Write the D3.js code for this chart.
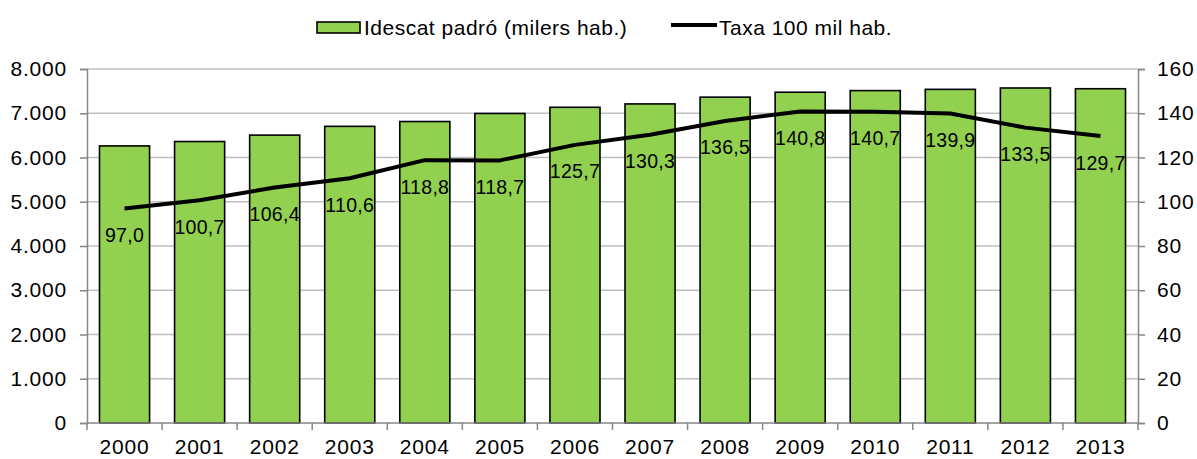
<!DOCTYPE html>
<html>
<head>
<meta charset="utf-8">
<script src="https://cdn.jsdelivr.net/npm/d3@7"></script>
<style>
  body { margin: 0; background: #fff; }
  svg text { font-family: "Liberation Sans", Arial, sans-serif; fill: #000; }
</style>
</head>
<body>
<svg id="chart" width="1197" height="459"></svg>
<script>
// Data
var years = ["2000","2001","2002","2003","2004","2005","2006","2007","2008","2009","2010","2011","2012","2013"];
var padro = [6262, 6361, 6506, 6704, 6813, 6995, 7135, 7211, 7364, 7475, 7512, 7540, 7571, 7554];
var taxa = [97.0, 100.7, 106.4, 110.6, 118.8, 118.7, 125.7, 130.3, 136.5, 140.8, 140.7, 139.9, 133.5, 129.7];
var leftTicks = [0, 1000, 2000, 3000, 4000, 5000, 6000, 7000, 8000];
var rightTicks = [0, 20, 40, 60, 80, 100, 120, 140, 160];
var legendLabels = ["Idescat padró (milers hab.)", "Taxa 100 mil hab."];

var svg = d3.select("#chart");
var m = { left: 87, right: 1138, top: 69, bottom: 423 };
var green = "#92d050";
var axisGrey = "#868686";
var fmt = d3.formatLocale({ decimal: ",", thousands: ".", grouping: [3], currency: ["", "€"] });
var fmtK = fmt.format(",d");
var fmt1 = fmt.format(".1f");

// Scales
var x = d3.scaleBand().domain(years).range([m.left, m.right]).paddingInner(0.333).paddingOuter(0.1665);
var yL = d3.scaleLinear().domain([0, 8000]).range([m.bottom, m.top]);
var yR = d3.scaleLinear().domain([0, 160]).range([m.bottom, m.top]);

// Gridlines
svg.append("g").selectAll("line")
   .data(leftTicks.slice(1))
   .enter().append("line")
   .attr("x1", m.left).attr("x2", m.right)
   .attr("y1", function(d) { return yL(d); })
   .attr("y2", function(d) { return yL(d); })
   .attr("stroke", "#bfbfbf").attr("stroke-width", 1.5);

// Bars
svg.append("g").selectAll("rect")
   .data(padro)
   .enter().append("rect")
   .attr("x", function(d, i) { return x(years[i]); })
   .attr("y", function(d) { return yL(d); })
   .attr("width", x.bandwidth())
   .attr("height", function(d) { return m.bottom - yL(d); })
   .attr("fill", green).attr("stroke", "#000").attr("stroke-width", 1.6);

// Axes
var axL = svg.append("g").attr("transform", "translate(" + m.left + ",0)")
  .call(d3.axisLeft(yL).tickValues(leftTicks).tickFormat(fmtK).tickSize(7).tickPadding(13));
var axR = svg.append("g").attr("transform", "translate(" + m.right + ",0)")
  .call(d3.axisRight(yR).tickValues(rightTicks).tickSize(7).tickPadding(12));
var axB = svg.append("g").attr("transform", "translate(0," + m.bottom + ")")
  .call(d3.axisBottom(x).tickSize(0).tickPadding(16));
// category boundary ticks
svg.append("g").selectAll("line")
   .data(d3.range(years.length + 1))
   .enter().append("line")
   .attr("x1", function(i) { return m.left + i * x.step(); })
   .attr("x2", function(i) { return m.left + i * x.step(); })
   .attr("y1", m.bottom).attr("y2", m.bottom + 7)
   .attr("stroke", axisGrey).attr("stroke-width", 1.5);

[axL, axR, axB].forEach(function(a) {
  a.selectAll("path").attr("stroke", axisGrey).attr("stroke-width", 1.5);
  a.selectAll(".tick line").attr("stroke", axisGrey).attr("stroke-width", 1.5);
  a.selectAll("text").style("font-size", "21px").style("letter-spacing", "0.8px")
   .style("font-family", "Liberation Sans, Arial, sans-serif");
});
axB.selectAll("path").attr("d", "M" + m.left + ",0H" + m.right);

// Line
var line = d3.line()
  .x(function(d, i) { return x(years[i]) + x.bandwidth() / 2; })
  .y(function(d) { return yR(d); });
svg.append("path").datum(taxa)
   .attr("d", line).attr("fill", "none")
   .attr("stroke", "#000").attr("stroke-width", 4).attr("stroke-linejoin", "round");

// Line labels
svg.append("g").selectAll("text")
   .data(taxa)
   .enter().append("text")
   .attr("x", function(d, i) { return x(years[i]) + x.bandwidth() / 2; })
   .attr("y", function(d) { return yR(d) + 33.5; })
   .attr("text-anchor", "middle")
   .style("font-size", "19.5px").style("letter-spacing", "0.3px")
   .text(function(d) { return fmt1(d); });

// Legend
var lg = svg.append("g");
lg.append("rect").attr("x", 317).attr("y", 22).attr("width", 43).attr("height", 11)
  .attr("fill", green).attr("stroke", "#000").attr("stroke-width", 1.6);
lg.append("text").attr("x", 364).attr("y", 35)
  .style("font-size", "21px").style("letter-spacing", "0.5px").text(legendLabels[0]);
lg.append("line").attr("x1", 671).attr("x2", 717).attr("y1", 25).attr("y2", 25)
  .attr("stroke", "#000").attr("stroke-width", 4);
lg.append("text").attr("x", 719).attr("y", 35)
  .style("font-size", "21px").style("letter-spacing", "0.5px").text(legendLabels[1]);
</script>
</body>
</html>
